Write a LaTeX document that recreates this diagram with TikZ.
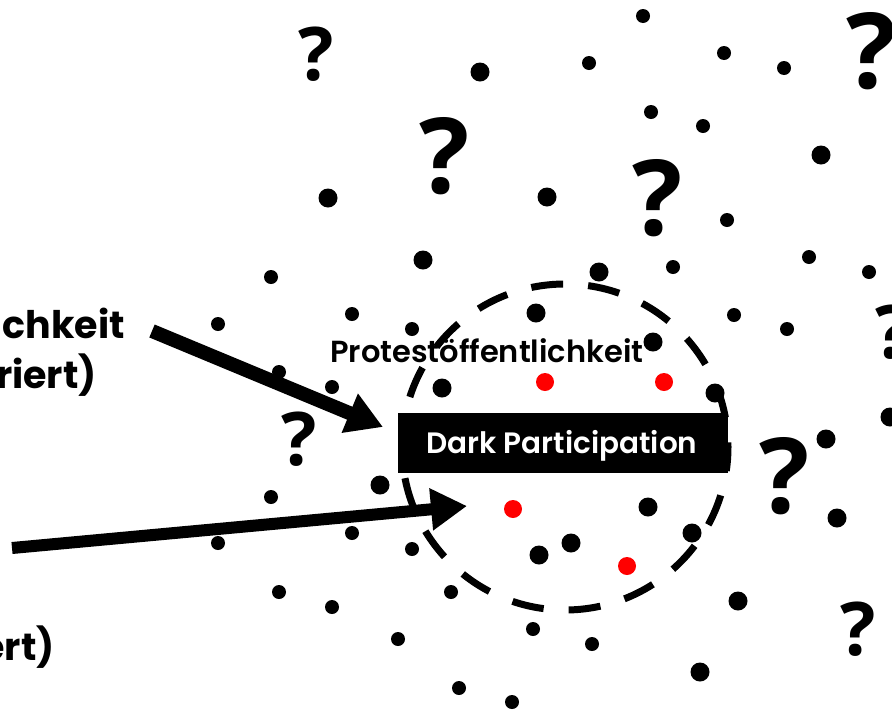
\documentclass[tikz,border=0pt]{standalone}
\usepackage{fontspec}
\setmainfont{Poppins}
\newfontfamily\semib{Poppins SemiBold}
\newfontfamily\qfont{Open Sans}
\usetikzlibrary{arrows.meta}
\begin{document}
\begin{tikzpicture}[x=1pt,y=-1pt,
  bigarrow/.style={line width=#1, -{Triangle[length=36pt,width=40pt]}},
  qbig/.style={font=\fontsize{105}{105}\selectfont\qfont\bfseries, inner sep=0pt, anchor=base},
  qmed/.style={font=\fontsize{74}{74}\selectfont\qfont\bfseries, inner sep=0pt, anchor=base},
  sidelabel/.style={font=\fontsize{38}{38}\selectfont\bfseries, inner sep=0pt, anchor=base east},
  dashcirc/.style={line width=7pt, dash pattern=on 32pt off 25.1pt, dash phase=27.5pt},
  darkbox/.style={fill=black},
  darklabel/.style={font=\fontsize{29.5}{30}\selectfont\semib, text=white, inner sep=0pt, anchor=base},
  protlabel/.style={font=\fontsize{30.5}{31}\selectfont\semib, inner sep=0pt, anchor=base west}
]
\useasboundingbox (0,0) rectangle (892,710);
% small dots
\foreach \p in {(643,16),(589,63),(651,112),(724,53),(784,68),(703,126),(727,220),(673,267),(809,257),(869,272),(734,315),(787,329),(271,277),(218,324),(352,314),(412,329),(279,372),(332,387),(271,497),(218,543),(352,533),(412,549),(279,592),(332,607),(398,639),(451,592),(533,629),(592,644),(459,688),(512,702)}
  \fill[black] \p circle[radius=7pt];
% large dots
\foreach \p in {(480,72),(328,198),(547,197),(423,260),(599,272),(821,155),(536,313),(653,342),(442,388),(715,393),(380,485),(826,439),(837,518),(648,507),(692,533),(571,543),(539,555),(738,601),(700,672),(890,417)}
  \fill[black] \p circle[radius=9.5pt];
% red dots
\foreach \p in {(545,382),(664,382),(513,509),(627,566)}
  \fill[red] \p circle[radius=9pt];
% question marks
\node[qbig] (q1) at (445,193) {?};
\node[qbig] (q2) at (658,235) {?};
\node[qbig] (q3) at (785,513) {?};
\node[qbig] (q4) at (872,88) {?};
\node[qmed] (q5) at (316,80) {?};
\node[qmed] (q6) at (299,465) {?};
\node[qmed] (q7) at (858,655) {?};
\node[qmed] (q8) at (893,358) {?};
% dashed circle
\coordinate (c) at (565,447);
\draw[dashcirc] (c) circle[radius=163pt];
% label above box
\node[protlabel] (prot) at (330,362) {Protestöffentlichkeit};
% box
\draw[darkbox] (398,413) rectangle (727,472);
\node[darklabel] (dp) at (562,453) {Dark Participation};
% side labels
\node[sidelabel] (l1) at (125,338) {chkeit};
\node[sidelabel] (l2) at (97,388) {riert)};
\node[sidelabel] (l3) at (55,660) {ert)};
% arrows
\coordinate (a1s) at (152,331);
\coordinate (a1e) at (383,427);
\coordinate (a2s) at (12,548);
\coordinate (a2e) at (467,506);
\draw[bigarrow=14pt] (a1s) -- (a1e);
\draw[bigarrow=12pt] (a2s) -- (a2e);
\end{tikzpicture}
\end{document}
